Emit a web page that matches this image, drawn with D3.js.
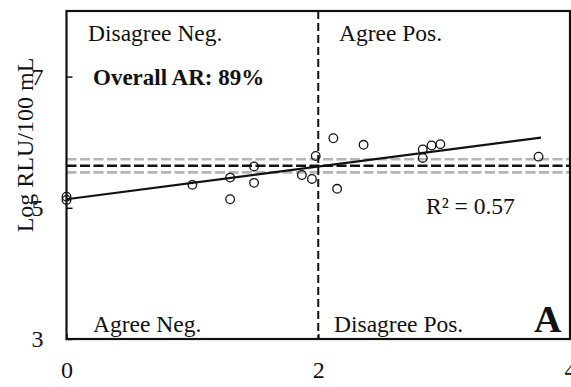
<!DOCTYPE html>
<html><head><meta charset="utf-8">
<script src="https://cdn.jsdelivr.net/npm/d3@7"></script>
<style>body{margin:0;background:#fff}svg{display:block}text{font-family:"Liberation Serif","Times New Roman",serif;fill:#111}</style>
</head><body>
<svg id="c" width="571" height="387"></svg>
<script>
// data
const pointsX = [0, 0, 1.00, 1.30, 1.30, 1.49, 1.49, 1.87, 1.95, 1.98, 2.12, 2.15, 2.36, 2.83, 2.83, 2.90, 2.97, 3.75];
const pointsY = [5.17, 5.12, 5.35, 5.46, 5.13, 5.63, 5.38, 5.50, 5.44, 5.79, 6.06, 5.29, 5.96, 5.89, 5.76, 5.95, 5.97, 5.78];
const regLineX = [0, 3.77];
const regLineY = [5.13, 6.07];
const cutoffY = 5.64;
const cutoffBand = [5.54, 5.74];
const cutoffX = 2;
const xTicks = [0, 2, 4];
const yTicks = [3, 5, 7];
const quadrantLabels = ["Disagree Neg.", "Agree Pos.", "Agree Neg.", "Disagree Pos."];

const svg = d3.select("#c");
const x = d3.scaleLinear().domain([0, 4]).range([66.5, 570]);
const y = d3.scaleLinear().domain([3, 8]).range([339, 11]);
const L = x.range()[0], R = x.range()[1], T = y.range()[1], B = y.range()[0];

// cutoff band lines
cutoffBand.forEach(v => {
  svg.append("line").attr("x1", L).attr("x2", R).attr("y1", y(v)).attr("y2", y(v))
    .attr("stroke", "#b5b5b5").attr("stroke-width", 2.6).attr("stroke-dasharray", "10,3.5");
});
svg.append("line").attr("x1", L).attr("x2", R).attr("y1", y(cutoffY)).attr("y2", y(cutoffY))
  .attr("stroke", "#111").attr("stroke-width", 2.6).attr("stroke-dasharray", "10,3.5");

// vertical cutoff
svg.append("line").attr("x1", x(cutoffX)).attr("x2", x(cutoffX)).attr("y1", T).attr("y2", B)
  .attr("stroke", "#111").attr("stroke-width", 2).attr("stroke-dasharray", "8,4");

// regression line
svg.append("line").attr("x1", x(regLineX[0])).attr("y1", y(regLineY[0]))
  .attr("x2", x(regLineX[1])).attr("y2", y(regLineY[1]))
  .attr("stroke", "#111").attr("stroke-width", 2.2);

// points
svg.append("g").selectAll("circle").data(pointsX).join("circle")
  .attr("cx", (d) => x(d)).attr("cy", (d, i) => y(pointsY[i])).attr("r", 4.3)
  .attr("fill", "none").attr("stroke", "#111").attr("stroke-width", 1.3);

// axes
const yAxis = d3.axisLeft(y).tickValues(yTicks).tickSize(-6).tickPadding(23).tickFormat(d3.format("d"));
const gy = svg.append("g").attr("transform", `translate(${L},0)`).call(yAxis);
gy.select(".domain").remove();
gy.selectAll("line").attr("stroke", "#111").attr("stroke-width", 1.5);
gy.selectAll("text").attr("font-size", 24).attr("font-family", "Liberation Serif").attr("fill", "#111");

const xAxis = d3.axisBottom(x).tickValues(xTicks).tickSize(-5).tickPadding(22).tickFormat(d3.format("d"));
const gx = svg.append("g").attr("transform", `translate(0,${B})`).call(xAxis);
gx.select(".domain").remove();
gx.selectAll("line").attr("stroke", "#111").attr("stroke-width", 1.5);
gx.selectAll("text").attr("font-size", 24).attr("font-family", "Liberation Serif").attr("fill", "#111");

// frame
svg.append("rect").attr("x", L).attr("y", T).attr("width", R - L).attr("height", B - T)
  .attr("fill", "none").attr("stroke", "#111").attr("stroke-width", 2.2);

// y label
svg.append("text").attr("transform", `translate(33,${(T + B) / 2 - 30}) rotate(-90)`)
  .attr("text-anchor", "middle").attr("font-size", 24).text("Log RLU/100 mL");

// annotations
const t = (tx, ty, s, size, bold) => svg.append("text").attr("x", tx).attr("y", ty)
  .attr("font-size", size).attr("font-weight", bold ? "bold" : "normal").text(s);
t(88, 41, quadrantLabels[0], 23.5);
t(339, 41, quadrantLabels[1], 23.5);
t(93, 332, quadrantLabels[2], 23.5);
t(334, 332, quadrantLabels[3], 23.5);
t(93, 85, "Overall AR: 89%", 23, true);
t(426, 214, "R² = 0.57", 23.5);
t(534, 332, "A", 38, true);
</script>
</body></html>
